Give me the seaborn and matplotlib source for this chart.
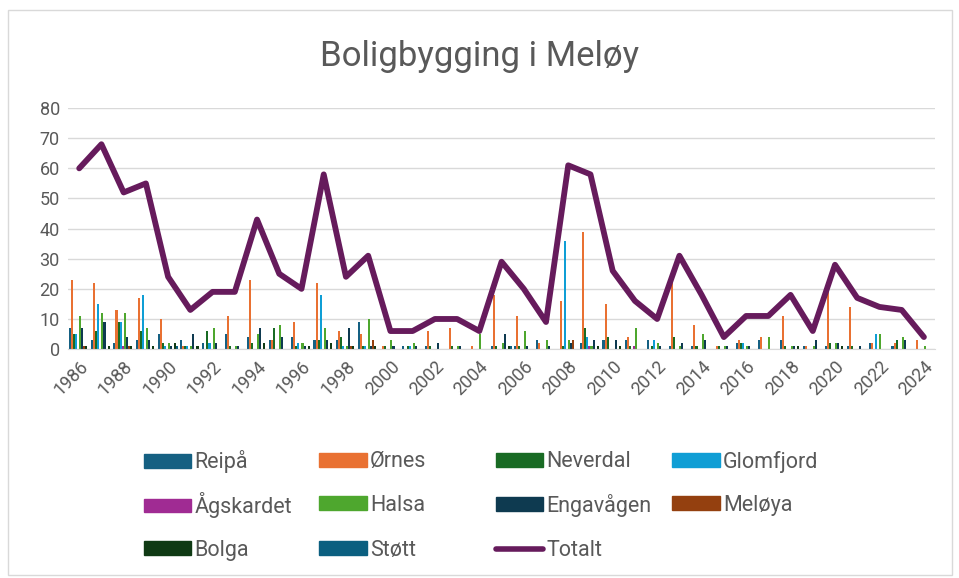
import matplotlib
matplotlib.use("Agg")
import matplotlib.pyplot as plt
import matplotlib.patches as mpatches
import seaborn as sns
import pandas as pd
import numpy as np

# Data
years = [str(y) for y in range(1986, 2025)]

reipa     = [7,3,2,3,5,3,2,5,4,3,4,3,3,9,0,1,1,0,0,1,1,3,0,2,3,3,3,1,1,0,2,3,3,1,1,1,2,1,0]
ornes     = [23,22,13,17,10,1,0,11,23,3,9,22,6,5,1,0,6,7,1,18,11,2,16,39,15,4,0,23,8,1,3,4,11,1,20,14,2,2,3]
neverdal  = [5,6,9,6,2,1,6,1,2,7,1,3,4,1,1,1,1,1,0,1,1,0,1,7,4,1,1,4,1,1,2,0,1,0,2,1,0,3,0]
glomfjord = [5,15,9,18,1,1,2,0,0,0,2,18,1,1,0,1,0,0,0,0,0,0,36,4,0,0,3,0,0,0,2,0,0,0,0,0,5,0,0]
agskardet = [0,0,1,0,0,0,0,0,0,0,0,0,0,0,0,0,0,0,0,0,0,0,0,1,0,1,0,0,0,0,0,0,0,0,0,0,0,0,0]
halsa     = [11,12,12,7,2,1,7,1,5,8,2,7,1,10,3,2,0,1,5,2,6,3,3,1,0,7,2,1,5,1,1,4,1,1,2,0,5,4,1]
engavagen = [7,9,4,3,1,5,2,1,7,4,1,3,7,1,1,1,2,1,0,5,1,1,2,3,3,0,1,2,3,1,1,0,1,3,2,1,0,3,0]
meloya    = [1,0,1,0,0,0,0,0,0,0,0,0,1,3,0,0,0,0,0,0,0,0,3,0,0,0,0,0,0,0,0,0,0,0,0,0,0,0,0]
bolga     = [1,1,1,1,2,1,0,0,2,0,1,2,1,1,0,0,0,0,0,1,0,0,0,1,1,0,0,0,0,0,0,0,1,0,1,0,0,0,0]
stott     = [0,0,0,0,1,0,0,0,0,0,0,0,0,0,0,0,0,0,0,1,0,0,0,0,0,0,0,0,0,0,0,0,0,0,0,0,0,0,0]

totalt = [60,68,52,55,24,13,19,19,43,25,20,58,24,31,6,6,10,10,6,29,20,9,61,58,26,16,10,31,18,4,11,11,18,6,28,17,14,13,4]

series_names = ["Reipå", "Ørnes", "Neverdal", "Glomfjord", "Ågskardet",
                "Halsa", "Engavågen", "Meløya", "Bolga", "Støtt"]
colors = ["#156082", "#E97132", "#196B24", "#0F9ED5", "#A02B93",
          "#4EA72E", "#0E3A50", "#94400F", "#0F3A14", "#0B5F80"]
line_color = "#661B5C"
text_color = "#595959"

df = pd.DataFrame({"År": years, "Reipå": reipa, "Ørnes": ornes, "Neverdal": neverdal,
                   "Glomfjord": glomfjord, "Ågskardet": agskardet, "Halsa": halsa,
                   "Engavågen": engavagen, "Meløya": meloya, "Bolga": bolga, "Støtt": stott})
long_df = df.melt(id_vars="År", var_name="Sted", value_name="Boliger")

sns.set_style("white")
plt.rcParams["font.family"] = ["Roboto", "DejaVu Sans"]

fig = plt.figure(figsize=(9.59, 5.78), dpi=100)
ax = fig.add_axes([0.071, 0.396, 0.904, 0.417])

sns.barplot(data=long_df, x="År", y="Boliger", hue="Sted", hue_order=series_names,
            palette=colors, saturation=1, width=0.92, errorbar=None, linewidth=0, ax=ax)
sns.lineplot(x=np.arange(len(years)), y=totalt, color=line_color, linewidth=4.2,
             label="Totalt", ax=ax)

ax.set_ylim(0, 80)
ax.set_yticks(range(0, 81, 10))
ax.set_xlim(-0.5, len(years) - 0.5)
ax.set_xticks(range(0, len(years), 2))
ax.set_xticklabels(years[::2], rotation=45, ha="right", rotation_mode="anchor")
ax.set_xlabel("")
ax.set_ylabel("")
ax.grid(axis="y", color="#D9D9D9", linewidth=1)
ax.set_axisbelow(True)
for side in ["top", "right", "left"]:
    ax.spines[side].set_visible(False)
ax.spines["bottom"].set_color("#D9D9D9")
ax.tick_params(length=0, labelsize=13, colors=text_color, pad=6)

fig.text(0.5, 0.903, "Boligbygging i Meløy", ha="center", va="center",
         fontsize=25, color=text_color)

# legend: one entry per slot so the grid matches Excel's equal columns
ax.get_legend().remove()
layout = [["Reipå", "Ørnes", "Neverdal", "Glomfjord"],
          ["Ågskardet", "Halsa", "Engavågen", "Meløya"],
          ["Bolga", "Støtt", "Totalt"]]
col_x = [0.150, 0.333, 0.517, 0.701]
row_y = [0.201, 0.126, 0.048]
for ry, row in zip(row_y, layout):
    for cx, name in zip(col_x, row):
        if name == "Totalt":
            h = plt.Line2D([], [], color=line_color, linewidth=4)
        else:
            h = mpatches.Patch(color=colors[series_names.index(name)])
        leg = fig.legend([h], [name], loc="center left", bbox_to_anchor=(cx, ry),
                         frameon=False, fontsize=15.5, handlelength=2.2, handleheight=0.6,
                         handletextpad=0.15, borderpad=0, borderaxespad=0)
        leg.get_texts()[0].set_color(text_color)

fig.patches.append(mpatches.Rectangle((0.008, 0.005), 0.985, 0.978, transform=fig.transFigure,
                                      fill=False, edgecolor="#D9D9D9", linewidth=1))

fig.savefig("out.png", dpi=100, facecolor="white")
